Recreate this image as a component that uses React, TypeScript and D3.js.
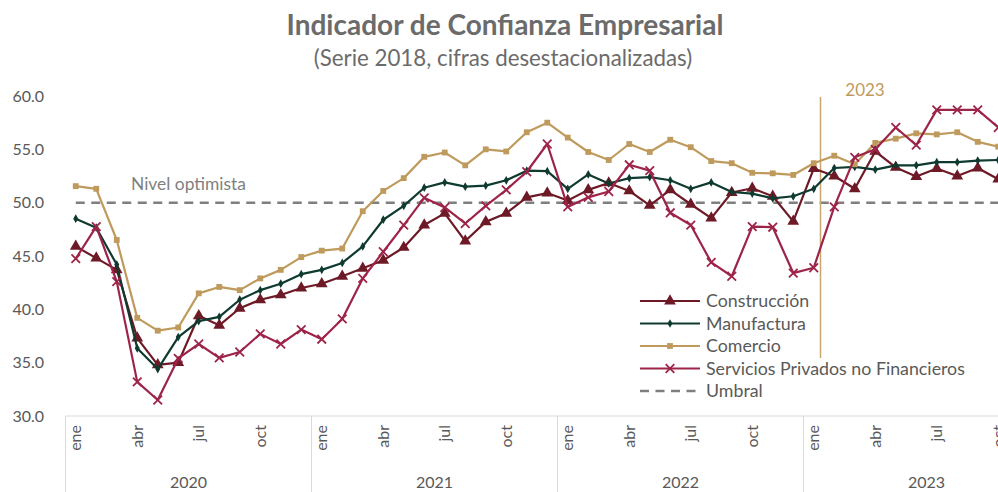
import React from "react";
import * as d3 from "d3";

const years = ["2020", "2021", "2022", "2023"];
const monthNames = ["ene", "feb", "mar", "abr", "may", "jun", "jul", "ago", "sep", "oct", "nov", "dic"];
const tickMonths = ["ene", "abr", "jul", "oct"];
const yTicks = [30, 35, 40, 45, 50, 55, 60];

const construccion = [
  45.9, 44.8, 43.7, 37.3, 34.8, 35.0, 39.4, 38.5, 40.1, 40.9, 41.35, 42.0,
  42.4, 43.1, 43.85, 44.6, 45.8, 47.9, 49.0, 46.4, 48.2, 49.0, 50.5, 50.9,
  50.2, 51.2, 51.85, 51.1, 49.75, 51.2, 49.85, 48.55, 50.95, 51.35, 50.6, 48.25,
  53.2, 52.5, 51.3, 54.8, 53.3, 52.45, 53.2, 52.5, 53.25, 52.2,
];
const manufactura = [
  48.5, 47.65, 44.2, 36.35, 34.4, 37.4, 38.9, 39.3, 40.9, 41.8, 42.4, 43.3,
  43.7, 44.35, 45.9, 48.4, 49.7, 51.4, 51.9, 51.5, 51.6, 52.1, 53.0, 52.95,
  51.3, 52.65, 51.8, 52.3, 52.4, 52.1, 51.3, 51.9, 51.0, 50.85, 50.4, 50.6,
  51.3, 53.25, 53.35, 53.1, 53.5, 53.5, 53.8, 53.8, 53.95, 54.0,
];
const comercio = [
  51.55, 51.3, 46.5, 39.2, 38.0, 38.3, 41.5, 42.1, 41.8, 42.9, 43.7, 44.9,
  45.5, 45.7, 49.2, 51.1, 52.3, 54.3, 54.7, 53.5, 55.0, 54.8, 56.6, 57.5,
  56.1, 54.75, 54.0, 55.5, 54.75, 55.9, 55.2, 53.9, 53.7, 52.8, 52.75, 52.6,
  53.7, 54.4, 53.6, 55.6, 56.0, 56.5, 56.4, 56.6, 55.7, 55.25,
];
const servicios = [
  44.75, 47.75, 42.6, 33.2, 31.5, 35.4, 36.75, 35.45, 36.0, 37.7, 36.75, 38.1,
  37.2, 39.1, 42.9, 45.4, 47.9, 50.45, 49.55, 48.05, 49.7, 51.2, 52.9, 55.5,
  49.6, 50.5, 51.05, 53.55, 53.0, 49.05, 47.9, 44.4, 43.1, 47.75, 47.7, 43.4,
  43.9, 49.6, 54.25, 55.0, 57.05, 55.4, 58.7, 58.7, 58.7, 57.05,
];
const umbral = 50;

const seriesNames = ["Construcción", "Manufactura", "Comercio", "Servicios Privados no Financieros"];
const seriesColors = ["#6e1a26", "#0e3a30", "#bf9a5d", "#9d2449"];
const seriesMarkers = ["triangle", "diamond", "square", "cross"];
const seriesData = [construccion, manufactura, comercio, servicios];

const FONT = "'Source Sans Pro', 'Lato', 'Noto Sans', sans-serif";

function Marker({ type, x, y, color }: { type: string; x: number; y: number; color: string }) {
  if (type === "triangle") {
    const p = d3.symbol(d3.symbolTriangle, 60)();
    return <path d={p as string} transform={`translate(${x},${y})`} fill={color} />;
  }
  if (type === "diamond") {
    const p = d3.symbol(d3.symbolDiamond, 22)();
    return <path d={p as string} transform={`translate(${x},${y})`} fill={color} />;
  }
  if (type === "square") {
    const p = d3.symbol(d3.symbolSquare, 34)();
    return <path d={p as string} transform={`translate(${x},${y})`} fill={color} />;
  }
  const p = d3.symbol(d3.symbolX, 50)();
  return <path d={p as string} transform={`translate(${x},${y})`} fill="none" stroke={color} strokeWidth={1.8} />;
}

export default function App() {
  const W = 998;
  const H = 492;
  const left = 65.5;
  const plotTop = 96;
  const plotBottom = 416;
  const yearWidth = 246;
  const n = years.length * 12;
  const x = d3.scaleBand<number>().domain(d3.range(n)).range([left, left + yearWidth * years.length]).paddingInner(0).paddingOuter(0);
  const cx = (i: number) => (x(i) as number) + x.bandwidth() / 2;
  const y = d3.scaleLinear().domain([30, 60]).range([plotBottom, plotTop]);

  const line = d3.line<number>().x((_, i) => cx(i)).y((d) => y(d));

  const legendX = 640;
  const legendY = 301;
  const legendRow = 22.5;

  return (
    <svg width={W} height={H} style={{ display: "block", position: "absolute", left: 0, top: 0 }} fontFamily={FONT}>
      <rect width={W} height={H} fill="#fff" />
      <text x={505} y={35} textAnchor="middle" fontSize={28} fontWeight="bold" fill="#6b6b6b">
        Indicador de Confianza Empresarial
      </text>
      <text x={503} y={66} textAnchor="middle" fontSize={22.3} fill="#6b6b6b">
        (Serie 2018, cifras desestacionalizadas)
      </text>

      {yTicks.map((t) => (
        <text key={t} x={44} y={y(t) + 5.5} textAnchor="end" fontSize={16} fill="#595959">
          {t.toFixed(1)}
        </text>
      ))}

      {/* x axis */}
      <line x1={left} x2={W} y1={plotBottom} y2={plotBottom} stroke="#d9d9d9" strokeWidth={1} />
      {years.map((yr, yi) => {
        const x0 = left + yi * yearWidth;
        return (
          <g key={yr}>
            <line x1={x0} x2={x0} y1={plotBottom} y2={H} stroke="#d9d9d9" strokeWidth={1} />
            {monthNames.map((m, mi) =>
              tickMonths.includes(m) ? (
                <text
                  key={m}
                  transform={`translate(${cx(yi * 12 + mi) + 5.5},${425}) rotate(-90)`}
                  textAnchor="end"
                  fontSize={16}
                  fill="#595959"
                >
                  {m}
                </text>
              ) : null
            )}
            <text x={x0 + yearWidth / 2} y={488} textAnchor="middle" fontSize={16} fill="#595959">
              {yr}
            </text>
          </g>
        );
      })}

      {/* umbral */}
      <line
        x1={cx(0)}
        x2={W}
        y1={y(umbral)}
        y2={y(umbral)}
        stroke="#7f7f7f"
        strokeWidth={2.5}
        strokeDasharray="9,6.5"
      />
      <text x={131} y={190} fontSize={17.4} fill="#7f7f7f">
        Nivel optimista
      </text>

      {/* 2023 marker */}
      <line x1={820.5} x2={820.5} y1={97} y2={358} stroke="#c9a66f" strokeWidth={1.5} />
      <text x={865} y={96} textAnchor="middle" fontSize={17} fill="#bf9a5d">
        2023
      </text>

      {seriesData.map((data, si) => (
        <g key={si}>
          <path d={line(data) as string} fill="none" stroke={seriesColors[si]} strokeWidth={2.2} strokeLinejoin="round" />
          {data.map((v, i) => (
            <Marker key={i} type={seriesMarkers[si]} x={cx(i)} y={y(v)} color={seriesColors[si]} />
          ))}
        </g>
      ))}

      {/* legend */}
      {seriesNames.map((name, si) => {
        const ly = legendY + si * legendRow;
        return (
          <g key={name}>
            <line x1={legendX} x2={legendX + 60} y1={ly} y2={ly} stroke={seriesColors[si]} strokeWidth={2.2} />
            <Marker type={seriesMarkers[si]} x={legendX + 30} y={ly} color={seriesColors[si]} />
            <text x={legendX + 66} y={ly + 6} fontSize={17.8} fill="#595959">
              {name}
            </text>
          </g>
        );
      })}
      <line
        x1={legendX}
        x2={legendX + 60}
        y1={legendY + 4 * legendRow}
        y2={legendY + 4 * legendRow}
        stroke="#7f7f7f"
        strokeWidth={2.5}
        strokeDasharray="9,6.5"
      />
      <text x={legendX + 66} y={legendY + 4 * legendRow + 6} fontSize={17.8} fill="#595959">
        Umbral
      </text>
    </svg>
  );
}
